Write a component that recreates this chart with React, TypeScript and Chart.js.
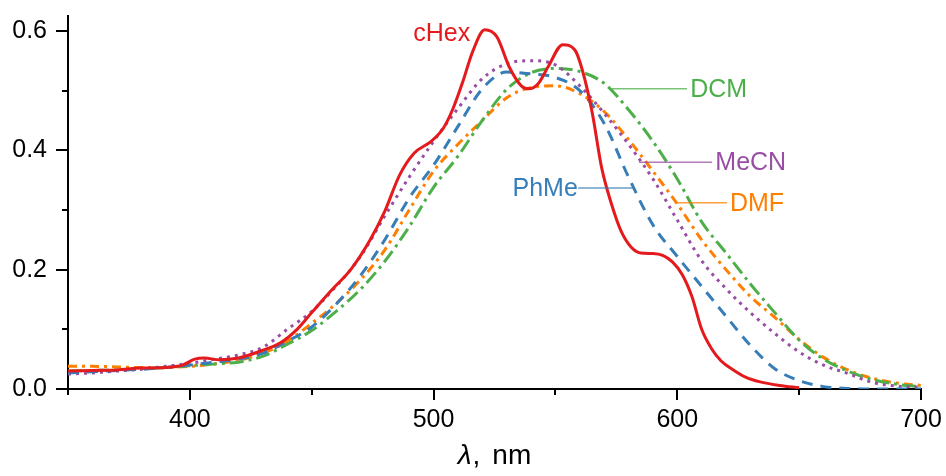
import React, { useEffect, useRef } from 'react';
import { Chart, registerables } from 'chart.js';

Chart.register(...registerables);

// Shared wavelength grid (nm) for the broad-band solvents
const wavelengths = [
  350, 360, 370, 380, 390, 400, 410, 420, 430, 440, 450, 460, 470, 480, 490, 500,
  510, 520, 530, 540, 550, 560, 570, 580, 590, 600, 610, 620, 630, 640, 650, 660,
  670, 680, 690, 700,
];

const phmeAbs = [
  0.027, 0.029, 0.031, 0.033, 0.036, 0.040, 0.045, 0.050, 0.060, 0.080, 0.104, 0.142,
  0.190, 0.250, 0.320, 0.375, 0.440, 0.503, 0.531, 0.528, 0.522, 0.500, 0.445, 0.355,
  0.275, 0.222, 0.172, 0.122, 0.073, 0.034, 0.014, 0.004, 0.001, 0.0, 0.0, 0.0,
];

const mecnAbs = [
  0.025, 0.027, 0.030, 0.033, 0.038, 0.043, 0.050, 0.057, 0.070, 0.100, 0.130, 0.172,
  0.222, 0.290, 0.355, 0.415, 0.470, 0.520, 0.545, 0.550, 0.543, 0.508, 0.462, 0.410,
  0.352, 0.283, 0.215, 0.168, 0.128, 0.093, 0.062, 0.040, 0.026, 0.011, 0.005, 0.003,
];

const dcmAbs = [
  0.030, 0.031, 0.032, 0.034, 0.036, 0.039, 0.042, 0.045, 0.055, 0.075, 0.098, 0.130,
  0.167, 0.214, 0.272, 0.338, 0.390, 0.450, 0.502, 0.530, 0.537, 0.532, 0.512, 0.468,
  0.415, 0.352, 0.280, 0.228, 0.176, 0.128, 0.082, 0.050, 0.030, 0.016, 0.008, 0.004,
];

const dmfAbs = [
  0.038, 0.038, 0.037, 0.036, 0.036, 0.038, 0.042, 0.048, 0.060, 0.080, 0.110, 0.143,
  0.183, 0.233, 0.300, 0.365, 0.410, 0.450, 0.488, 0.505, 0.508, 0.495, 0.465, 0.418,
  0.365, 0.310, 0.250, 0.200, 0.155, 0.120, 0.083, 0.053, 0.032, 0.018, 0.010, 0.006,
];

// Cyclohexane: vibronically structured band, own wavelength grid
const cHexNm = [
  350, 360, 370, 380, 390, 397, 402, 406, 412, 420, 430, 437, 444, 450, 458, 466,
  474, 480, 486, 492, 499, 504, 508, 512, 516, 521, 526, 531, 536, 539, 543, 547,
  553, 558, 561, 565, 569, 573, 577, 581, 585, 590, 594, 598, 602, 606, 610, 614,
  618, 623, 628, 634, 642, 650,
];
const cHexAbs = [
  0.030, 0.031, 0.032, 0.035, 0.036, 0.040, 0.050, 0.052, 0.049, 0.052, 0.065, 0.077,
  0.100, 0.128, 0.165, 0.200, 0.250, 0.298, 0.358, 0.395, 0.415, 0.437, 0.470, 0.515,
  0.565, 0.602, 0.590, 0.540, 0.508, 0.503, 0.512, 0.540, 0.577, 0.568, 0.535, 0.465,
  0.370, 0.310, 0.264, 0.238, 0.228, 0.227, 0.224, 0.213, 0.192, 0.155, 0.100, 0.068,
  0.047, 0.032, 0.020, 0.012, 0.006, 0.002,
];

const seriesNames = ['cHex', 'PhMe', 'MeCN', 'DCM', 'DMF'];
const seriesColors = ['#e41a1c', '#377eb8', '#984ea3', '#4daf4a', '#ff7f00'];

const xMajorTicks = [400, 500, 600, 700];
const yTickLabels = ['0.0', '0.2', '0.4', '0.6'];

// Label annotations (data coordinates): text anchor + leader line
const annotations = [
  { name: 'cHex', color: '#e41a1c', textX: 515, y: 0.597, align: 'right', line: null as null | [number, number] },
  { name: 'DCM', color: '#4daf4a', textX: 605.3, y: 0.503, align: 'left', line: [573.2, 604] as [number, number] },
  { name: 'MeCN', color: '#984ea3', textX: 615.6, y: 0.38, align: 'left', line: [584.3, 614.3] as [number, number] },
  { name: 'PhMe', color: '#377eb8', textX: 559.2, y: 0.337, align: 'right', line: [559.3, 581.8] as [number, number] },
  { name: 'DMF', color: '#ff7f00', textX: 621.6, y: 0.312, align: 'left', line: [599.9, 620.4] as [number, number] },
];

const FONT = '"Liberation Sans", Arial, Helvetica, sans-serif';

const decorPlugin = {
  id: 'decor',
  afterDraw(chart: any) {
    const { ctx, chartArea, scales } = chart;
    const xs = scales.x;
    const ys = scales.y;
    ctx.save();
    // tick marks (major / minor)
    ctx.strokeStyle = '#000';
    ctx.lineWidth = 2;
    ctx.beginPath();
    for (let v = 350; v <= 700; v += 50) {
      const px = Math.round(xs.getPixelForValue(v));
      const len = v % 100 === 0 ? 11 : 6;
      ctx.moveTo(px, chartArea.bottom);
      ctx.lineTo(px, chartArea.bottom + len);
    }
    for (let i = 0; i <= 6; i++) {
      const v = i / 10;
      const py = Math.round(ys.getPixelForValue(v));
      const len = i % 2 === 0 ? 12 : 6;
      ctx.moveTo(chartArea.left, py);
      ctx.lineTo(chartArea.left - len, py);
    }
    ctx.stroke();

    // series annotations with leader lines
    ctx.font = `25px ${FONT}`;
    ctx.textBaseline = 'middle';
    annotations.forEach((a) => {
      const py = ys.getPixelForValue(a.y);
      if (a.line) {
        ctx.strokeStyle = a.color;
        ctx.globalAlpha = 0.75;
        ctx.lineWidth = 1.5;
        ctx.beginPath();
        ctx.moveTo(xs.getPixelForValue(a.line[0]), py);
        ctx.lineTo(xs.getPixelForValue(a.line[1]), py);
        ctx.stroke();
        ctx.globalAlpha = 1;
      }
      ctx.fillStyle = a.color;
      ctx.textAlign = a.align as CanvasTextAlign;
      ctx.fillText(a.name, xs.getPixelForValue(a.textX), py + 1);
    });

    // axis title: italic lambda + ", nm"
    const italic = `italic 28px ${FONT}`;
    const normal = `28px ${FONT}`;
    ctx.font = italic;
    const wL = ctx.measureText('λ').width;
    ctx.font = normal;
    const wC = ctx.measureText(',').width;
    const wN = ctx.measureText('nm').width;
    const gap = 12;
    const total = wL + 1 + wC + gap + wN;
    const cx = (chartArea.left + chartArea.right) / 2;
    const startX = cx - total / 2;
    const base = 464;
    ctx.textAlign = 'left';
    ctx.textBaseline = 'alphabetic';
    ctx.fillStyle = '#000';
    ctx.font = italic;
    ctx.fillText('λ', startX, base);
    ctx.font = normal;
    ctx.fillText(',', startX + wL + 1, base);
    ctx.fillText('nm', startX + wL + 1 + wC + gap, base);
    ctx.restore();
  },
};

export default function App() {
  const canvasRef = useRef<HTMLCanvasElement | null>(null);

  useEffect(() => {
    if (!canvasRef.current) return;
    const mk = (xsArr: number[], ysArr: number[]) => xsArr.map((x, i) => ({ x, y: ysArr[i] }));
    const dashes: number[][] = [[], [11, 8], [3, 5], [14, 5, 3, 5], [9, 5, 3, 5]];
    const dataArrays = [
      mk(cHexNm, cHexAbs),
      mk(wavelengths, phmeAbs),
      mk(wavelengths, mecnAbs),
      mk(wavelengths, dcmAbs),
      mk(wavelengths, dmfAbs),
    ];
    const datasets = seriesNames.map((name, i) => ({
      label: name,
      data: dataArrays[i],
      borderColor: seriesColors[i],
      backgroundColor: seriesColors[i],
      borderWidth: 3,
      borderDash: dashes[i],
      pointRadius: 0,
      fill: false,
      cubicInterpolationMode: 'monotone' as const,
    }));

    const hiddenGrid = (len: number) => ({
      display: true,
      drawOnChartArea: false,
      drawTicks: true,
      tickLength: len,
      color: 'rgba(0,0,0,0)',
    });

    const chart = new Chart(canvasRef.current, {
      type: 'line',
      data: { datasets },
      options: {
        animation: false,
        responsive: false,
        devicePixelRatio: 1,
        layout: { padding: { top: 16, right: 25, left: 0, bottom: 0 } },
        plugins: { legend: { display: false }, tooltip: { enabled: false } },
        scales: {
          x: {
            type: 'linear',
            min: 350,
            max: 700,
            grid: hiddenGrid(16),
            border: { display: true, color: '#000', width: 2 },
            ticks: {
              stepSize: 50,
              autoSkip: false,
              maxRotation: 0,
              padding: 0,
              color: '#000',
              font: { family: FONT, size: 25 },
              callback: (v: any) => (xMajorTicks.includes(Number(v)) ? String(v) : ''),
            },
            afterFit: (s: any) => {
              s.height = 87;
            },
          },
          y: {
            type: 'linear',
            min: 0,
            max: 0.625,
            grid: hiddenGrid(21),
            border: { display: true, color: '#000', width: 2 },
            ticks: {
              stepSize: 0.1,
              includeBounds: false,
              autoSkip: false,
              padding: 0,
              color: '#000',
              font: { family: FONT, size: 25 },
              callback: (v: any) => {
                const r = Math.round(Number(v) * 10);
                return r % 2 === 0 ? yTickLabels[r / 2] ?? '' : '';
              },
            },
            afterFit: (s: any) => {
              s.width = 68;
            },
          },
        },
      },
      plugins: [decorPlugin],
    });
    return () => chart.destroy();
  }, []);

  return (
    <div style={{ position: 'absolute', left: 0, top: 0, width: 946, height: 476, background: '#fff' }}>
      <canvas ref={canvasRef} width={946} height={476} style={{ display: 'block' }} />
    </div>
  );
}
